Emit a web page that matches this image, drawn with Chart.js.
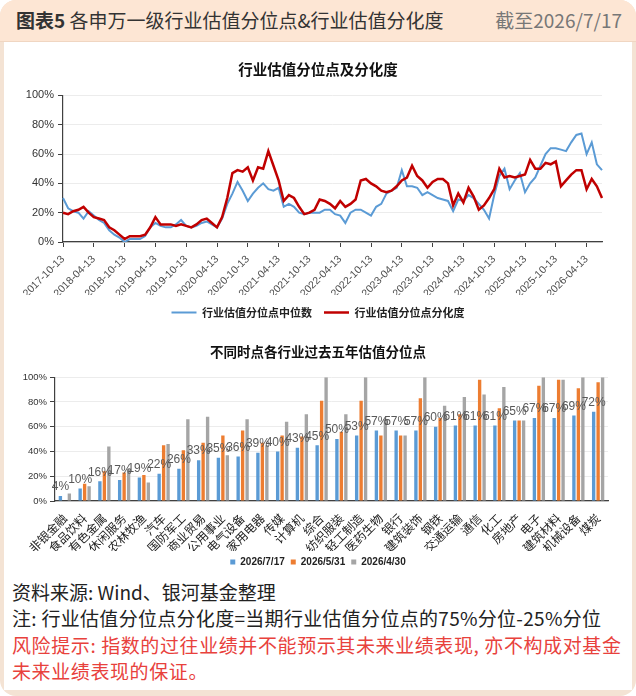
<!DOCTYPE html>
<html>
<head>
<meta charset="utf-8">
<script src="https://cdn.jsdelivr.net/npm/chart.js@4.4.0/dist/chart.umd.min.js"></script>
<style>
  html, body { margin: 0; padding: 0; background: #fff; }
  #card {
    position: relative; width: 636px; height: 696px; overflow: hidden;
    background: #f4e3d4; border-radius: 16px;
    font-family: "Noto Sans CJK SC", "Noto Sans", sans-serif;
  }
  #head {
    position: absolute; left: 0; top: 0; width: 636px; height: 41px;
    background: #fde6d4; border-bottom: 1px solid #f0d6c2;
  }
  #head .t { position: absolute; left: 16px; top: 6px; font-size: 19px; color: #333; line-height: 28px; }
  #head .t b { font-weight: 700; }
  #head .d { position: absolute; right: 14px; top: 6px; font-size: 19px; color: #777; line-height: 28px; }
  #panel { position: absolute; left: 4px; top: 42px; width: 628px; height: 648px; background: #fff; }
  canvas { position: absolute; left: 0; }
  #foot { position: absolute; left: 12px; top: 579px; font-size: 19px; line-height: 26.3px; color: #222; }
  #foot .note { letter-spacing: 0.3px; }
  #foot .risk { color: #e8413c; letter-spacing: 0.6px; }
</style>
</head>
<body>
<div id="card">
  <div id="head">
    <div class="t"><b>图表5</b> 各申万一级行业估值分位点&amp;行业估值分化度</div>
    <div class="d">截至2026/7/17</div>
  </div>
  <div id="panel"></div>
  <canvas id="lineChart" width="636" height="286" style="top:42px"></canvas>
  <canvas id="barChart" width="636" height="245" style="top:332px"></canvas>
  <div id="foot">
    资料来源: Wind、银河基金整理<br>
    <span class="note">注: 行业估值分位点分化度=当期行业估值分位点的75%分位-25%分位</span><br>
    <span class="risk">风险提示: 指数的过往业绩并不能预示其未来业绩表现, 亦不构成对基金<br>未来业绩表现的保证。</span>
  </div>
</div>
<script>
// monthly points, 2017-10 .. 2026-07
const START_YEAR = 2017, START_MONTH = 10, N_MONTHS = 106;
const monthLabels = [];
for (let i = 0; i < N_MONTHS; i++) {
  const m = START_MONTH - 1 + i;
  const y = START_YEAR + Math.floor(m / 12);
  const mm = String(m % 12 + 1).padStart(2, '0');
  monthLabels.push(`${y}-${mm}-13`);
}

// 行业估值分位点中位数 (%)
const medianPct = [
  30, 23, 21, 20, 16, 21, 18, 15, 13, 8, 5, 3, 0,
  2, 2, 2, 4, 10, 13, 11, 10, 10, 12, 15, 11,
  10, 11, 13, 14, 12, 10, 16, 26, 33, 41, 35, 28,
  33, 37, 40, 36, 35, 37, 24, 26, 24, 20, 19, 20,
  20, 20, 22, 22, 19, 18, 13, 20, 22, 22, 20, 18,
  24, 26, 33, 35, 37, 49, 38, 38, 37, 32, 34, 32,
  30, 29, 28, 21, 29, 28, 32, 30, 26, 22, 16, 32,
  45, 50, 36, 42, 47, 34, 40, 44, 52, 60, 64, 64,
  63, 62, 68, 73, 74, 60, 68, 53, 49
];

// 行业估值分位点分化度 (%)
const dispersionPct = [
  20, 19, 21, 22, 24, 20, 17, 16, 15, 10, 8, 5, 2,
  4, 4, 4, 5, 10, 17, 12, 12, 12, 11, 12, 11,
  10, 12, 15, 16, 13, 10, 17, 30, 47, 49, 48, 51,
  42, 51, 50, 62, 52, 42, 28, 32, 30, 24, 19, 20,
  22, 29, 28, 26, 23, 28, 24, 26, 29, 42, 43, 40,
  38, 35, 34, 35, 38, 42, 44, 52, 45, 42, 37, 41,
  43, 43, 40, 25, 33, 27, 37, 31, 22, 25, 30, 36,
  50, 44, 45, 44, 45, 46, 56, 50, 50, 54, 53, 55,
  38, 42, 46, 49, 49, 36, 43, 38, 30
];

const industries = ['非银金融', '食品饮料', '有色金属', '休闲服务', '农林牧渔', '汽车', '国防军工',
  '商业贸易', '公用事业', '电气设备', '家用电器', '传媒', '计算机', '综合', '纺织服装', '轻工制造',
  '医药生物', '银行', '建筑装饰', '钢铁', '交通运输', '通信', '化工', '房地产', '电子', '建筑材料',
  '机械设备', '煤炭'];
const pct0717 = [4, 10, 16, 17, 19, 22, 26, 33, 35, 36, 39, 40, 43, 45, 50, 53, 57, 57, 57, 60, 61, 61, 61, 65, 67, 67, 69, 72];
const pct0531 = [0.5, 14, 24, 23, 21, 45, 41, 47, 53, 57, 47, 53, 52, 81, 56, 81, 53, 53, 83, 67, 70, 98, 75, 65, 93, 98, 91, 96];
const pct0430 = [6, 12, 44, 26, 15, 46, 66, 68, 37, 66, 45, 64, 70, 100, 70, 100, 66, 53, 100, 77, 84, 86, 92, 65, 100, 98, 100, 100];

const CJK = '"Noto Sans CJK SC", sans-serif';
const LAT = '"Liberation Sans", Arial, sans-serif';
const NARROW = '"Liberation Sans Narrow", "Liberation Sans", sans-serif';
const AXIS = '#404040';

// empty right-hand axis, keeps the plot off the right edge while title/legend stay centred
const spacerAxis = w => ({
  position: 'right', display: true,
  afterFit: s => { s.width = w; },
  ticks: { display: false }, grid: { display: false }, border: { display: false }
});

// top chart: line
new Chart(document.getElementById('lineChart'), {
  type: 'line',
  data: {
    labels: monthLabels,
    datasets: [
      { label: '行业估值分位点中位数', data: medianPct, borderColor: '#5b9bd5', backgroundColor: '#5b9bd5',
        borderWidth: 2, pointRadius: 0, tension: 0, order: 2 },
      { label: '行业估值分位点分化度', data: dispersionPct, borderColor: '#c00000', backgroundColor: '#c00000',
        borderWidth: 2.5, pointRadius: 0, tension: 0, order: 1 }
    ]
  },
  options: {
    responsive: false,
    animation: false,
    layout: { padding: 0 },
    plugins: {
      title: { display: true, text: '行业估值分位点及分化度', color: '#111',
        font: { family: CJK, size: 14.5, weight: 'bold' }, padding: { top: 19, bottom: 17 } },
      legend: {
        position: 'bottom',
        labels: {
          sort: (a, b) => a.datasetIndex - b.datasetIndex,
          usePointStyle: true, pointStyle: 'line', pointStyleWidth: 25,
          color: '#222', padding: 12, font: { family: CJK, size: 11, weight: 'bold' }
        }
      },
      tooltip: { enabled: false }
    },
    scales: {
      x: {
        // box must hold the rotated labels, they are clipped to it
        afterFit: s => { s.height = 53; },
        border: { color: AXIS, width: 1.2 },
        grid: { drawOnChartArea: false, tickLength: 5, tickColor: AXIS },
        ticks: {
          autoSkip: false, minRotation: 45, maxRotation: 45, color: '#4d4d4d', padding: 6,
          font: { family: LAT, size: 10.5 },
          callback: function (val, idx) { return idx % 6 === 0 ? this.getLabelForValue(val) : null; }
        }
      },
      y: {
        min: 0, max: 100,
        afterFit: s => { s.width = 63; },
        border: { color: AXIS, width: 1.2 },
        grid: { color: '#ececec', tickLength: 5, tickColor: AXIS },
        ticks: { stepSize: 10, color: '#333', padding: 4, font: { family: LAT, size: 11 },
          callback: v => v + '%' }
      },
      yPad: spacerAxis(34)
    }
  }
});

// labels above the 2026/7/17 bars
const barValueLabels = {
  id: 'barValueLabels',
  afterDatasetsDraw(chart) {
    const meta = chart.getDatasetMeta(0);
    const ctx = chart.ctx;
    ctx.save();
    ctx.font = '12px ' + NARROW;
    ctx.fillStyle = '#595959';
    ctx.textAlign = 'center';
    ctx.textBaseline = 'bottom';
    meta.data.forEach((bar, i) => {
      ctx.fillText(pct0717[i] + '%', bar.x, bar.y - 3);
    });
    ctx.restore();
  }
};

// bottom chart: grouped bars
new Chart(document.getElementById('barChart'), {
  type: 'bar',
  data: {
    labels: industries,
    datasets: [
      { label: '2026/7/17', data: pct0717, backgroundColor: '#5b9bd5' },
      { label: '2026/5/31', data: pct0531, backgroundColor: '#ed7d31' },
      { label: '2026/4/30', data: pct0430, backgroundColor: '#a5a5a5' }
    ]
  },
  options: {
    responsive: false,
    animation: false,
    categoryPercentage: 0.68,
    barPercentage: 0.75,
    layout: { padding: 0 },
    plugins: {
      title: { display: true, text: '不同时点各行业过去五年估值分位点', color: '#111',
        font: { family: CJK, size: 13.5, weight: 'bold' }, padding: { top: 12, bottom: 17 } },
      legend: {
        position: 'bottom',
        labels: { boxWidth: 5, boxHeight: 5, color: '#222', padding: 6,
          font: { family: LAT, size: 10, weight: 'bold' } }
      },
      tooltip: { enabled: false }
    },
    scales: {
      x: {
        afterFit: s => { s.height = 50; },
        border: { color: AXIS, width: 1.2 },
        grid: { display: false },
        ticks: { autoSkip: false, minRotation: 45, maxRotation: 45, color: '#222', padding: 2,
          font: { family: CJK, size: 12 } }
      },
      y: {
        min: 0, max: 100,
        afterFit: s => { s.width = 55; },
        border: { color: AXIS, width: 1.2 },
        grid: { color: '#ececec', tickLength: 5, tickColor: AXIS },
        ticks: { stepSize: 10, color: '#333', padding: 3, font: { family: LAT, size: 9.5 },
          callback: v => v + '%' }
      },
      yPad: spacerAxis(28)
    }
  },
  plugins: [barValueLabels]
});
</script>
</body>
</html>
